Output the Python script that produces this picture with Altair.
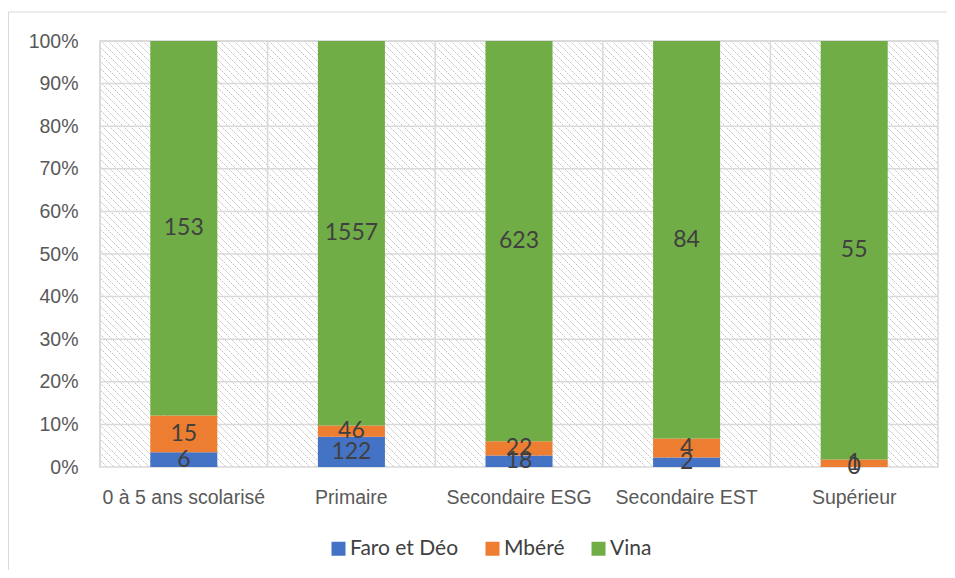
import altair as alt
import pandas as pd
import numpy as np

categories = ["0 à 5 ans scolarisé", "Primaire", "Secondaire ESG", "Secondaire EST", "Supérieur"]
series = ["Faro et Déo", "Mbéré", "Vina"]
faro = [6, 122, 18, 2, 0]
mbere = [15, 46, 22, 4, 1]
vina = [153, 1557, 623, 84, 55]
colors = ["#4472C4", "#ED7D31", "#70AD47"]
y_ticks = [0.1, 0.2, 0.3, 0.4, 0.5, 0.6, 0.7, 0.8, 0.9, 1.0]
y_axis_values = [0.0] + y_ticks

rows = []
for s_i, (s, vals) in enumerate(zip(series, [faro, mbere, vina])):
    for c, v in zip(categories, vals):
        rows.append({"cat": c, "series": s, "order": s_i, "value": v})
df = pd.DataFrame(rows)

W, H = 838, 426
GRID = "#d9d9d9"
AXIS_FONT = "Liberation Sans"

# decorative hatch pattern of the plot background (style only)
step = 7
cs = np.arange(0, W + H + step, step)
hatch = pd.DataFrame({"x1": cs - H, "y1": H, "x2": cs, "y2": 0})

hatch_chart = alt.Chart(hatch).mark_rule(
    clip=True, color="#c4c4c4", strokeWidth=1, strokeDash=[2, 1]
).encode(
    x=alt.X("x1:Q", scale=alt.Scale(domain=[0, W], nice=False, zero=False), axis=None),
    x2="x2:Q",
    y=alt.Y("y1:Q", scale=alt.Scale(domain=[0, H], nice=False, zero=False), axis=None),
    y2="y2:Q",
)

x_axis = alt.Axis(
    title=None, labelAngle=0, ticks=False, tickSize=0, domain=False, grid=False,
    labelFont=AXIS_FONT, labelFontSize=19.5, labelColor="#595959", labelPadding=21,
)
y_axis = alt.Axis(
    format="%", values=y_axis_values, title=None, grid=False, ticks=False,
    tickSize=0, domain=False, labelFont=AXIS_FONT, labelFontSize=19.5,
    labelColor="#595959", labelPadding=22,
)
x_scale = alt.Scale(paddingInner=0, paddingOuter=0)
y_scale = alt.Scale(domain=[0, 1], nice=False)

base = alt.Chart(df).transform_stack(
    stack="value", groupby=["cat"], as_=["v0", "v1"], offset="normalize",
    sort=[alt.SortField("order", order="ascending")],
).transform_calculate(mid="(datum.v0 + datum.v1) / 2")

bars = base.mark_bar(width=alt.RelativeBandSize(0.4)).encode(
    x=alt.X("cat:N", sort=categories, scale=x_scale, axis=x_axis),
    y=alt.Y("v0:Q", scale=y_scale, axis=y_axis),
    y2="v1:Q",
    color=alt.Color(
        "series:N",
        scale=alt.Scale(domain=series, range=colors),
        legend=alt.Legend(
            title=None, orient="none", legendX=228, legendY=497, direction="horizontal",
            symbolType="square", symbolSize=196, symbolStrokeWidth=0, symbolOpacity=1,
            labelFont="Lato", labelFontSize=21, labelColor="#404040",
            columnPadding=23, labelOffset=1,
        ),
    ),
)

labels = base.mark_text(font="Lato", fontSize=23, color="#404040").encode(
    x=alt.X("cat:N", sort=categories, scale=x_scale, axis=x_axis),
    y=alt.Y("mid:Q", scale=y_scale, axis=y_axis),
    text=alt.Text("value:Q"),
)

grid_h = alt.Chart(pd.DataFrame({"t": y_ticks})).mark_rule(
    color=GRID, strokeWidth=1.5
).encode(y=alt.Y("t:Q", scale=y_scale, axis=y_axis))

grid_v = alt.Chart(pd.DataFrame({"cat": categories})).mark_rule(
    color=GRID, strokeWidth=1.5, xOffset=-W / len(categories) / 2
).encode(x=alt.X("cat:N", sort=categories, scale=x_scale, axis=x_axis))

frame_df = pd.DataFrame({"k": [0]})
frame_left = alt.Chart(frame_df).mark_rule(color=GRID, strokeWidth=1).encode(
    x=alt.value(-91.5), y=alt.value(-29), y2=alt.value(540)
)
frame_top = alt.Chart(frame_df).mark_rule(color=GRID, strokeWidth=1).encode(
    x=alt.value(-91.5), x2=alt.value(860), y=alt.value(-29)
)

inner = alt.layer(grid_h, grid_v, bars, labels, frame_left, frame_top)

chart = alt.layer(hatch_chart, inner).resolve_scale(
    x="independent", y="independent"
).properties(
    width=W, height=H,
    padding={"left": 92, "top": 33, "right": 9, "bottom": 103},
    autosize=alt.AutoSizeParams(type="none"),
    background="white",
).configure_view(stroke=GRID, strokeWidth=1.5)

chart.save("out.html", embed_options={"renderer": "svg", "actions": False})
